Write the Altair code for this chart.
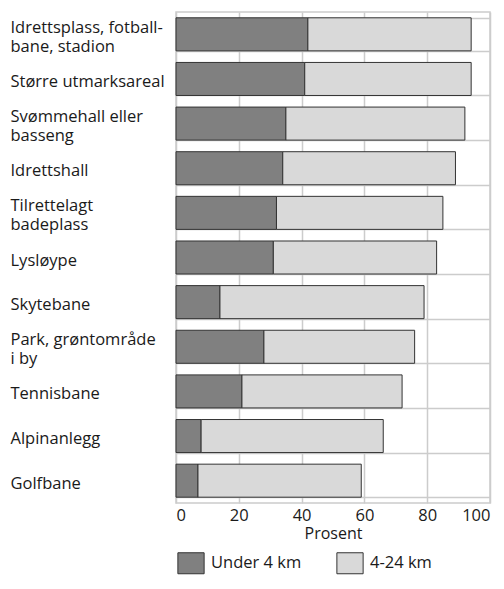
import altair as alt
import pandas as pd

categories = [
    "Idrettsplass, fotball-|bane, stadion",
    "Større utmarksareal",
    "Svømmehall eller|basseng",
    "Idrettshall",
    "Tilrettelagt|badeplass",
    "Lysløype",
    "Skytebane",
    "Park, grøntområde|i by",
    "Tennisbane",
    "Alpinanlegg",
    "Golfbane",
]
under_4 = [42, 41, 35, 34, 32, 31, 14, 28, 21, 8, 7]
km_4_24 = [52, 53, 57, 55, 53, 52, 65, 48, 51, 58, 52]
series = ["Under 4 km", "4-24 km"]
x_ticks = [0, 20, 40, 60, 80, 100]

rows = []
for c, a, b in zip(categories, under_4, km_4_24):
    rows.append({"kategori": c, "serie": series[0], "verdi": a, "rekkefolge": 0})
    rows.append({"kategori": c, "serie": series[1], "verdi": b, "rekkefolge": 1})
df = pd.DataFrame(rows)

FONT = "Open Sans"
GRID = "#cccccc"
TXT = "#1a1a1a"
ZW = "\u200b"

label_expr = (
    "indexof(datum.label, '|') >= 0 ? "
    f"[split(datum.label, '|')[0], '{ZW}', split(datum.label, '|')[1]] : "
    f"['{ZW}', datum.label, '{ZW}']"
)

chart = (
    alt.Chart(df)
    .mark_bar(stroke="#333333", strokeWidth=1)
    .encode(
        y=alt.Y(
            "kategori:N",
            sort=categories,
            title=None,
            scale=alt.Scale(paddingInner=0.26, paddingOuter=0.13),
            axis=alt.Axis(
                grid=True,
                tickBand="extent",
                ticks=False,
                tickSize=0,
                domain=False,
                labelAlign="left",
                labelBaseline="middle",
                labelPadding=166,
                labelExpr=label_expr,
                labelLineHeight=9.5,
                labelFontSize=16.5,
                labelFont=FONT,
                labelColor=TXT,
                gridColor=GRID,
                gridWidth=1.5,
                labelLimit=300,
                labelOffset=-7,
            ),
        ),
        x=alt.X(
            "verdi:Q",
            stack="zero",
            scale=alt.Scale(domain=[0, 100], nice=False),
            axis=alt.Axis(
                values=x_ticks,
                title="Prosent",
                titleFont=FONT,
                titleFontSize=16,
                titleFontWeight="normal",
                titleColor=TXT,
                titlePadding=2,
                labelFont=FONT,
                labelFontSize=16.5,
                labelColor=TXT,
                labelPadding=4,
                ticks=False,
                tickSize=0,
                domain=False,
                grid=True,
                gridColor=GRID,
                gridWidth=1.5,
            ),
        ),
        fill=alt.Fill(
            "serie:N",
            sort=series,
            scale=alt.Scale(domain=series, range=["#808080", "#d9d9d9"]),
            legend=alt.Legend(
                title=None,
                orient="bottom",
                direction="horizontal",
                symbolType="M-1.25,-1H1.25V1H-1.25Z",
                symbolSize=441,
                symbolStrokeColor="#333333",
                symbolStrokeWidth=1,
                symbolOpacity=1,
                labelFont=FONT,
                labelFontSize=16.5,
                labelColor=TXT,
                labelOffset=9,
                columnPadding=32,
                padding=4,
                offset=6,
            ),
        ),
        order=alt.Order("rekkefolge:Q"),
    )
    .properties(
        width=314,
        height=491,
        autosize=alt.AutoSizeParams(type="none"),
        padding={"left": 168, "top": 4, "right": 6, "bottom": 76},
    )
    .configure_view(stroke=GRID, strokeWidth=1.5)
)

chart.save("out.html", embed_options={"renderer": "svg", "actions": False})
